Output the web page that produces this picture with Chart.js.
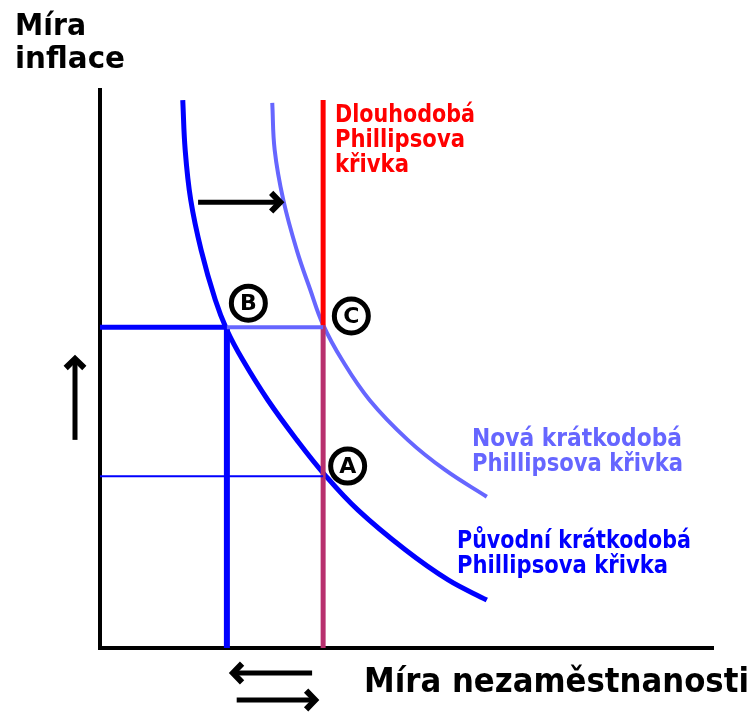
<!DOCTYPE html>
<html>
<head>
<meta charset="utf-8">
<script src="https://cdn.jsdelivr.net/npm/chart.js@4.4.1/dist/chart.umd.min.js"></script>
<style>
  html, body { margin: 0; padding: 0; background: #ffffff; }
  #wrap { width: 749px; height: 712px; position: relative; }
</style>
</head>
<body>
<div id="wrap"><canvas id="phillipsChart"></canvas></div>
<script>
// Axis ranges (abstract units: unemployment on x, inflation on y)
const xRange = [0, 100];
const yRange = [0, 100];

// Original short-run Phillips curve (dark blue)
const origX = [13.5, 13.9, 14.8, 16.5, 18.8, 20.7, 23.3, 27.4, 32.1, 36.7, 42.1, 49.8, 56.8, 63.1];
const origY = [98.2, 89.2, 80.3, 71.3, 62.4, 57.0, 51.6, 44.4, 37.3, 31.0, 24.7, 17.6, 12.2, 8.6];

// New short-run Phillips curve (light blue)
const newX = [28.1, 28.5, 29.9, 32.1, 34.3, 36.4, 39.5, 44.0, 50.2, 56.3, 63.1];
const newY = [97.7, 89.2, 80.3, 71.3, 64.2, 57.9, 51.6, 44.4, 37.3, 31.9, 27.1];

// Long-run Phillips curve (vertical), natural rate
const naturalRate = 36.4;
const longRunTop = 98.2;
const splitY = 57.9;

// Levels of points B/C and A
const highInflation = 57.5;
const lowInflation = 30.8;
const unemploymentB = 20.7;

// Labelled points
const pointLabels = ['B', 'C', 'A'];
const pointX = [24.2, 41.0, 40.4];
const pointY = [61.8, 59.5, 32.6];

// Texts
const yTitle = ['Míra', 'inflace'];
const xTitle = 'Míra nezaměstnanosti';
const longRunLabel = ['Dlouhodobá', 'Phillipsova', 'křivka'];
const newLabel = ['Nová krátkodobá', 'Phillipsova křivka'];
const origLabel = ['Původní krátkodobá', 'Phillipsova křivka'];

function toPoints(xs, ys) {
    return xs.map((x, i) => ({ x: x, y: ys[i] }));
}

function lineSet(data, color, width) {
    return {
        data: data,
        showLine: true,
        borderColor: color,
        backgroundColor: color,
        borderWidth: width,
        pointRadius: 0,
        tension: 0.4,
        clip: false
    };
}

// Draw text squeezed/stretched to a given width (the original uses a wide bitmap font)
function fitText(ctx, text, x, y, width, size, color) {
    ctx.save();
    ctx.font = 'bold ' + size + 'px "DejaVu Sans"';
    ctx.fillStyle = color;
    ctx.textBaseline = 'alphabetic';
    const w = ctx.measureText(text).width;
    ctx.translate(x, y);
    ctx.scale(width / w, 1);
    ctx.fillText(text, 0, 0);
    ctx.restore();
}

function arrow(ctx, x1, y1, x2, y2) {
    const ang = Math.atan2(y2 - y1, x2 - x1);
    const head = 13;
    ctx.save();
    ctx.strokeStyle = '#000000';
    ctx.lineWidth = 5;
    ctx.beginPath();
    ctx.moveTo(x1, y1);
    ctx.lineTo(x2 - Math.cos(ang) * 3, y2 - Math.sin(ang) * 3);
    ctx.stroke();
    ctx.lineWidth = 6;
    ctx.lineJoin = 'miter';
    ctx.beginPath();
    ctx.moveTo(x2 - head * Math.cos(ang - 0.8), y2 - head * Math.sin(ang - 0.8));
    ctx.lineTo(x2, y2);
    ctx.lineTo(x2 - head * Math.cos(ang + 0.8), y2 - head * Math.sin(ang + 0.8));
    ctx.stroke();
    ctx.restore();
}

const decorPlugin = {
    id: 'decor',
    afterDraw(chart) {
        const ctx = chart.ctx;
        const xs = chart.scales.x;
        const ys = chart.scales.y;
        const px = v => xs.getPixelForValue(v);
        const py = v => ys.getPixelForValue(v);

        // circled point labels
        pointLabels.forEach((lab, i) => {
            const cx = px(pointX[i]);
            const cy = py(pointY[i]);
            ctx.save();
            ctx.beginPath();
            ctx.arc(cx, cy, 17, 0, Math.PI * 2);
            ctx.fillStyle = '#ffffff';
            ctx.fill();
            ctx.lineWidth = 5;
            ctx.strokeStyle = '#000000';
            ctx.stroke();
            ctx.fillStyle = '#000000';
            ctx.font = 'bold 22px "DejaVu Sans"';
            ctx.textAlign = 'center';
            ctx.textBaseline = 'middle';
            ctx.fillText(lab, cx, cy + 1);
            ctx.restore();
        });

        // shift arrow between short-run curves
        arrow(ctx, px(16.0), py(79.9), px(29.4), py(79.9));
        // rising inflation arrow
        arrow(ctx, 75, py(37.3), 75, py(51.8));
        // unemployment moves away and back
        arrow(ctx, px(34.6), 673, px(21.7), 673);
        arrow(ctx, px(22.3), 700, px(35.1), 700);

        // axis titles
        fitText(ctx, yTitle[0], 15, 35, 71, 30, '#000000');
        fitText(ctx, yTitle[1], 15, 68, 110, 30, '#000000');
        fitText(ctx, xTitle, 364, 692, 385, 34, '#000000');

        // curve labels
        const longWidths = [140, 130, 74];
        longRunLabel.forEach((t, i) => {
            fitText(ctx, t, 335, 122 + i * 25, longWidths[i], 24, '#ff0000');
        });
        fitText(ctx, newLabel[0], 472, 446, 210, 24, '#6666ff');
        fitText(ctx, newLabel[1], 472, 471, 211, 24, '#6666ff');
        fitText(ctx, origLabel[0], 457, 548, 234, 24, '#0000ff');
        fitText(ctx, origLabel[1], 457, 573, 211, 24, '#0000ff');
    }
};

const ctx = document.getElementById('phillipsChart').getContext('2d');
new Chart(ctx, {
    type: 'scatter',
    data: {
        datasets: [
            // guide line for point A
            lineSet([{ x: 0, y: lowInflation }, { x: naturalRate, y: lowInflation }], '#0000ff', 2),
            // guide lines for points B and C
            lineSet([{ x: unemploymentB, y: highInflation }, { x: naturalRate, y: highInflation }], '#6666ff', 4),
            lineSet([{ x: 0, y: highInflation }, { x: unemploymentB, y: highInflation }], '#0000ff', 5),
            lineSet([{ x: unemploymentB, y: highInflation }, { x: unemploymentB, y: 0 }], '#0000ff', 6),
            // long-run Phillips curve
            lineSet([{ x: naturalRate, y: longRunTop }, { x: naturalRate, y: splitY }], '#ff0000', 5),
            lineSet([{ x: naturalRate, y: splitY }, { x: naturalRate, y: 0 }], '#b8306e', 5),
            // short-run curves
            lineSet(toPoints(newX, newY), '#6666ff', 4),
            lineSet(toPoints(origX, origY), '#0000ff', 5)
        ]
    },
    options: {
        responsive: true,
        maintainAspectRatio: false,
        animation: false,
        layout: { padding: { left: 100, top: 90, right: 36, bottom: 64 } },
        plugins: {
            legend: { display: false },
            tooltip: { enabled: false }
        },
        scales: {
            x: {
                type: 'linear',
                min: xRange[0],
                max: xRange[1],
                ticks: { display: false },
                grid: { display: false, drawTicks: false },
                border: { display: true, color: '#000000', width: 4 }
            },
            y: {
                type: 'linear',
                min: yRange[0],
                max: yRange[1],
                ticks: { display: false },
                grid: { display: false, drawTicks: false },
                border: { display: true, color: '#000000', width: 4 }
            }
        }
    },
    plugins: [decorPlugin]
});
</script>
</body>
</html>
